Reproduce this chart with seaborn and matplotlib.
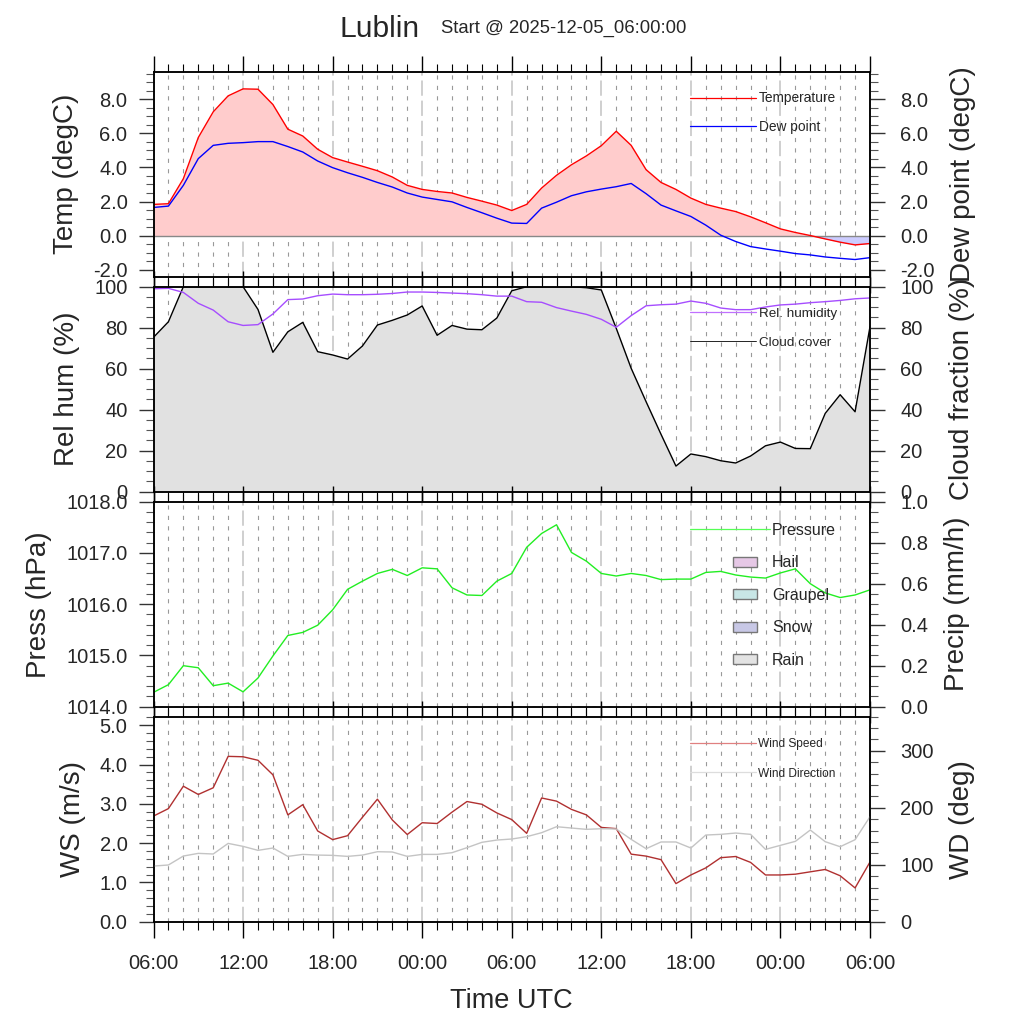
import matplotlib
matplotlib.use('Agg')
import matplotlib.pyplot as plt
import matplotlib.dates as mdates
from matplotlib.ticker import MultipleLocator, FormatStrFormatter
from matplotlib.lines import Line2D
from matplotlib.patches import Patch, Rectangle
from matplotlib.legend_handler import HandlerPatch
import numpy as np
import pandas as pd
import seaborn as sns

sns.set_style('ticks')
plt.rcParams['font.family'] = ['Liberation Sans', 'DejaVu Sans']
plt.rcParams['axes.unicode_minus'] = False
plt.rcParams['lines.scale_dashes'] = False

station = 'Lublin'
start = '2025-12-05_06:00:00'
times = pd.date_range('2025-12-05 06:00', periods=49, freq='h')

temp = [1.83, 1.87, 3.34, 5.76, 7.27, 8.21, 8.62, 8.60, 7.70, 6.25, 5.85, 5.07, 4.58,
        4.32, 4.07, 3.81, 3.44, 2.95, 2.71, 2.59, 2.50, 2.24, 2.02, 1.79, 1.47, 1.83,
        2.79, 3.54, 4.16, 4.68, 5.28, 6.13, 5.30, 3.87, 3.12, 2.71, 2.20, 1.83, 1.61,
        1.41, 1.10, 0.75, 0.39, 0.18, 0.00, -0.20, -0.39, -0.55, -0.47]
dewpoint = [1.65, 1.73, 2.95, 4.52, 5.30, 5.42, 5.46, 5.52, 5.52, 5.23, 4.91, 4.38, 3.99,
            3.69, 3.42, 3.12, 2.85, 2.50, 2.26, 2.12, 1.98, 1.65, 1.34, 1.02, 0.73, 0.71,
            1.61, 1.96, 2.34, 2.57, 2.73, 2.87, 3.06, 2.46, 1.79, 1.45, 1.12, 0.61, 0.02,
            -0.35, -0.65, -0.79, -0.92, -1.06, -1.14, -1.26, -1.34, -1.41, -1.30]
rel_hum = [99.0, 99.2, 97.2, 91.9, 88.6, 82.9, 81.1, 81.5, 86.7, 93.7, 94.0, 95.6, 96.4,
           96.1, 96.1, 96.3, 96.7, 97.4, 97.4, 97.2, 96.9, 96.6, 96.1, 95.4, 95.4, 92.7,
           92.4, 89.8, 88.1, 86.5, 84.1, 80.2, 85.9, 90.7, 91.2, 91.5, 93.0, 91.9, 89.6,
           88.8, 88.8, 90.1, 91.1, 91.5, 92.2, 92.7, 93.3, 94.1, 94.5]
cloud = [75.3, 82.9, 100.0, 100.0, 100.0, 100.0, 100.0, 88.9, 68.0, 78.0, 82.6, 68.3, 66.7,
         64.7, 71.1, 81.3, 83.6, 86.2, 90.6, 76.3, 81.1, 79.3, 79.0, 84.7, 98.0, 100.0,
         100.0, 100.0, 100.0, 99.5, 98.4, 79.7, 60.2, 43.9, 28.0, 12.5, 18.4, 17.1, 15.1,
         14.0, 17.4, 22.4, 24.2, 21.1, 21.0, 38.2, 47.3, 39.0, 80.5]
pressure = [1014.28, 1014.43, 1014.80, 1014.76, 1014.41, 1014.46, 1014.29, 1014.56, 1014.99,
            1015.39, 1015.45, 1015.59, 1015.89, 1016.29, 1016.45, 1016.60, 1016.68, 1016.56,
            1016.71, 1016.69, 1016.32, 1016.18, 1016.17, 1016.45, 1016.60, 1017.11, 1017.38,
            1017.55, 1017.01, 1016.84, 1016.60, 1016.55, 1016.60, 1016.56, 1016.48, 1016.49,
            1016.49, 1016.62, 1016.64, 1016.57, 1016.53, 1016.51, 1016.61, 1016.69, 1016.40,
            1016.22, 1016.13, 1016.18, 1016.28]
# no precipitation in this run
rain = [0.0] * 49
snow = [0.0] * 49
graupel = [0.0] * 49
hail = [0.0] * 49
wind_speed = [2.69, 2.88, 3.45, 3.24, 3.41, 4.21, 4.20, 4.11, 3.74, 2.72, 2.98, 2.31, 2.09,
              2.19, 2.66, 3.12, 2.59, 2.22, 2.52, 2.50, 2.79, 3.06, 2.99, 2.77, 2.60, 2.25,
              3.15, 3.07, 2.86, 2.72, 2.40, 2.37, 1.72, 1.67, 1.58, 0.97, 1.19, 1.37, 1.63,
              1.66, 1.51, 1.19, 1.19, 1.21, 1.27, 1.33, 1.17, 0.86, 1.52]
wind_dir = [97.7, 99.6, 115.3, 120.0, 118.9, 137.5, 132.3, 125.3, 129.4, 114.7, 118.2, 117.0,
            116.5, 114.7, 117.0, 122.9, 122.4, 114.7, 118.2, 118.2, 121.2, 130.0, 139.4, 143.4,
            145.2, 149.3, 156.3, 166.8, 164.5, 162.2, 163.3, 162.8, 144.6, 128.2, 140.0, 140.0,
            129.4, 152.2, 153.4, 155.7, 153.4, 127.0, 134.1, 141.1, 161.0, 140.5, 131.7, 144.0,
            184.4]

temp = np.array(temp)
dewpoint = np.array(dewpoint)

W = H = 1024
fig = plt.figure(figsize=(W / 100, H / 100), dpi=100)
left, width = 153.5 / W, 716.5 / W
tops = [71.7, 286.7, 501.7, 716.7]
axes = [fig.add_axes([left, 1 - (t + 205) / H, width, 205 / H]) for t in tops]


def style(ax, twin, ylim, major, minor, fmt_l, fmt_r, ylim_r, major_r, minor_r,
          label_l, label_r, bottom_labels=False):
    ax.set_xlim(times[0], times[-1])
    ax.xaxis.set_major_locator(mdates.HourLocator(byhour=[0, 6, 12, 18]))
    ax.xaxis.set_minor_locator(mdates.HourLocator())
    ax.xaxis.set_major_formatter(mdates.DateFormatter('%H:%M'))
    ax.tick_params(axis='x', which='both', direction='out', top=True, bottom=True,
                   labelbottom=bottom_labels, labelsize=14.5, pad=11.5, color='black')
    ax.tick_params(axis='x', which='major', length=11.5, width=1.0)
    ax.tick_params(axis='x', which='minor', length=5.8, width=0.8)
    ax.grid(which='minor', axis='x', color='#999999', lw=0.8, ls=(0, (3, 4.5)))
    ax.grid(which='major', axis='x', color='#cccccc', lw=1.3, ls=(0, (11, 3.5)))
    ax.set_axisbelow(True)
    for a, yl, mj, mn, fm, pd_ in [(ax, ylim, major, minor, fmt_l, 8),
                                   (twin, ylim_r, major_r, minor_r, fmt_r, 11)]:
        a.set_ylim(*yl)
        a.yaxis.set_major_locator(MultipleLocator(mj))
        a.yaxis.set_minor_locator(MultipleLocator(mn))
        a.yaxis.set_major_formatter(FormatStrFormatter(fm))
        a.tick_params(axis='y', which='major', direction='out', length=10.8, width=1.0,
                      labelsize=14.5, pad=pd_, color='#333333')
        a.tick_params(axis='y', which='minor', direction='out', length=5.8, width=0.8,
                      color='#555555')
        for s in a.spines.values():
            s.set_linewidth(1.1)
            s.set_color('black')
    ax.set_ylabel(label_l, fontsize=20, labelpad=10)
    twin.set_ylabel(label_r, fontsize=20, labelpad=11)


def small_box(legend, orig_handle, xdescent, ydescent, width, height, fontsize):
    bw, bh, gap = 17.3, 7.2, 9.4
    return Rectangle((-xdescent + width - gap - bw, -ydescent + (height - bh) / 2), bw, bh)


def add_legend(ax, handles, labels, size, first_row, spacing, hlen, pad=0.22, x0=690):
    leg = ax.legend(handles, labels, loc='center left', frameon=False, fontsize=size,
                    handlelength=hlen, handletextpad=pad, borderpad=0, borderaxespad=0,
                    labelspacing=spacing,
                    bbox_to_anchor=((x0 - 153.5) / 716.5, first_row),
                    handler_map={Patch: HandlerPatch(patch_func=small_box)})
    return leg


# panel 1: temperature and dew point
ax = axes[0]
ax.fill_between(times, temp, 0, where=temp >= 0, interpolate=True, color='#ffcccc', lw=0)
ax.fill_between(times, temp, 0, where=temp <= 0, interpolate=True, color='#ccccff', lw=0)
ax.axhline(0, color='#888888', lw=1.0)
sns.lineplot(x=times, y=temp, ax=ax, color='red', lw=1.0)
sns.lineplot(x=times, y=dewpoint, ax=ax, color='blue', lw=1.0)
tw = ax.twinx()
style(ax, tw, (-2.42, 9.63), 2, 0.5, '%.1f', '%.1f', (-2.42, 9.63), 2, 0.5,
      'Temp (degC)', 'Dew point (degC)')
h = [Line2D([], [], color='red', lw=0.9), Line2D([], [], color='blue', lw=0.9)]
add_legend(ax, h, ['Temperature', 'Dew point'], 9.9, 1 - 27.5 / 205 - 13.5 / 205, 1.05, 4.8)

# panel 2: relative humidity and cloud cover
ax = axes[1]
cl = np.array(cloud)
ax.fill_between(times, cl, 0, color='#e1e1e1', lw=0)
sns.lineplot(x=times, y=cloud, ax=ax, color='black', lw=1.0)
sns.lineplot(x=times, y=rel_hum, ax=ax, color='#a64dff', lw=1.0)
tw = ax.twinx()
style(ax, tw, (0, 100), 20, 5, '%d', '%d', (0, 100), 20, 5,
      'Rel hum (%)', 'Cloud fraction (%)')
h = [Line2D([], [], color='#c070ff', lw=0.9), Line2D([], [], color='black', lw=0.6)]
add_legend(ax, h, ['Rel. humidity', 'Cloud cover'], 9.7, 1 - 27.5 / 205 - 14 / 205, 1.2, 4.9)

# panel 3: pressure and precipitation
ax = axes[2]
sns.lineplot(x=times, y=pressure, ax=ax, color='#22ee22', lw=1.0)
tw = ax.twinx()
bottom = np.zeros(len(times))
for vals, col in [(rain, '#e3e3e3'), (snow, '#c8c8e6'), (graupel, '#c8e6e6'), (hail, '#e6c8e6')]:
    tw.bar(times, vals, bottom=bottom, width=0.03, color=col, edgecolor='#888888', lw=0.8)
    bottom = bottom + np.array(vals)
style(ax, tw, (1014, 1018), 1, 0.2, '%.1f', '%.1f', (0, 1.0), 0.2, 0.05,
      'Press (hPa)', 'Precip (mm/h)')
h = [Line2D([], [], color='#55ff55', lw=0.9),
     Patch(facecolor='#e6c8e6', edgecolor='#777777', lw=1.0),
     Patch(facecolor='#c8e6e6', edgecolor='#777777', lw=1.0),
     Patch(facecolor='#c8c8e6', edgecolor='#777777', lw=1.0),
     Patch(facecolor='#e3e3e3', edgecolor='#777777', lw=1.0)]
add_legend(ax, h, ['Pressure', 'Hail', 'Graupel', 'Snow', 'Rain'], 11.5,
           1 - 28.5 / 205 - 65 / 205, 1.1, 5.0, pad=0.12)

# panel 4: wind
ax = axes[3]
sns.lineplot(x=times, y=wind_speed, ax=ax, color='#b03030', lw=1.0)
tw = ax.twinx()
sns.lineplot(x=times, y=wind_dir, ax=tw, color='#c4c4c4', lw=1.0)
style(ax, tw, (0, 5.22), 1, 0.2, '%.1f', '%d', (0, 360), 100, 20,
      'WS (m/s)', 'WD (deg)', bottom_labels=True)
ax.set_xlabel('Time UTC', fontsize=19.5, labelpad=11)
h = [Line2D([], [], color='#e08080', lw=0.9), Line2D([], [], color='#dddddd', lw=0.9)]
add_legend(ax, h, ['Wind Speed', 'Wind Direction'], 8.6, 1 - 27 / 205 - 15 / 205, 1.5, 5.5)

fig.text(339 / W, 1 - 37 / H, station, fontsize=21.6, ha='left', va='baseline')
fig.text(441 / W, 1 - 33.3 / H, f'Start @ {start}', fontsize=13.3, ha='left', va='baseline')

fig.savefig('out.png', dpi=100)
